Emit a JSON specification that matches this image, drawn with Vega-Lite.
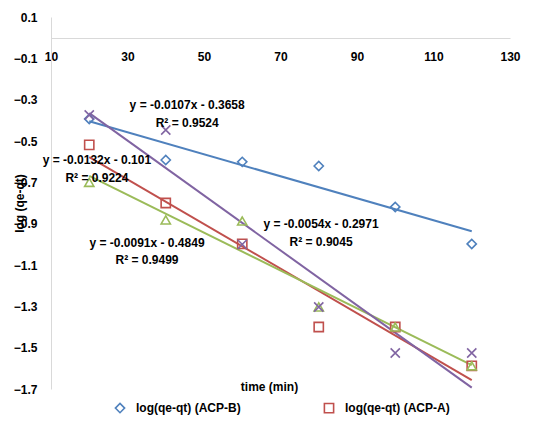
{
  "$schema": "https://vega.github.io/schema/vega-lite/v6.json",
  "width": 459,
  "height": 372,
  "autosize": "none",
  "padding": {"left": 51, "top": 17, "right": 30, "bottom": 32},
  "background": "white",
  "config": {
    "view": {"stroke": null},
    "font": "Liberation Sans",
    "text": {"font": "Liberation Sans"}
  },
  "datasets": {
    "points": [
      {"series": "log(qe-qt) (ACP-B)", "x": 20, "y": -0.393},
      {"series": "log(qe-qt) (ACP-B)", "x": 40, "y": -0.592},
      {"series": "log(qe-qt) (ACP-B)", "x": 60, "y": -0.601},
      {"series": "log(qe-qt) (ACP-B)", "x": 80, "y": -0.621},
      {"series": "log(qe-qt) (ACP-B)", "x": 100, "y": -0.819},
      {"series": "log(qe-qt) (ACP-B)", "x": 120, "y": -0.998},
      {"series": "log(qe-qt) (ACP-A)", "x": 20, "y": -0.519},
      {"series": "log(qe-qt) (ACP-A)", "x": 40, "y": -0.8},
      {"series": "log(qe-qt) (ACP-A)", "x": 60, "y": -0.998},
      {"series": "log(qe-qt) (ACP-A)", "x": 80, "y": -1.4},
      {"series": "log(qe-qt) (ACP-A)", "x": 100, "y": -1.4},
      {"series": "log(qe-qt) (ACP-A)", "x": 120, "y": -1.588},
      {"series": "log(qe-qt) (ACP-C)", "x": 20, "y": -0.7},
      {"series": "log(qe-qt) (ACP-C)", "x": 40, "y": -0.882},
      {"series": "log(qe-qt) (ACP-C)", "x": 60, "y": -0.887},
      {"series": "log(qe-qt) (ACP-C)", "x": 80, "y": -1.303},
      {"series": "log(qe-qt) (ACP-C)", "x": 100, "y": -1.4},
      {"series": "log(qe-qt) (ACP-C)", "x": 120, "y": -1.588},
      {"series": "log(qe-qt) (ACP-D)", "x": 20, "y": -0.374},
      {"series": "log(qe-qt) (ACP-D)", "x": 40, "y": -0.447},
      {"series": "log(qe-qt) (ACP-D)", "x": 60, "y": -1.0},
      {"series": "log(qe-qt) (ACP-D)", "x": 80, "y": -1.303},
      {"series": "log(qe-qt) (ACP-D)", "x": 100, "y": -1.526},
      {"series": "log(qe-qt) (ACP-D)", "x": 120, "y": -1.526}
    ],
    "labels": [
      {"x": 45.6, "y": -0.326, "text": "y = -0.0107x - 0.3658"},
      {"x": 45.6, "y": -0.413, "text": "R² = 0.9524"},
      {"x": 22.0, "y": -0.592, "text": "y = -0.0132x - 0.101"},
      {"x": 22.0, "y": -0.679, "text": "R² = 0.9224"},
      {"x": 35.1, "y": -0.993, "text": "y = -0.0091x - 0.4849"},
      {"x": 35.1, "y": -1.076, "text": "R² = 0.9499"},
      {"x": 80.6, "y": -0.901, "text": "y = -0.0054x - 0.2971"},
      {"x": 80.6, "y": -0.989, "text": "R² = 0.9045"}
    ]
  },
  "encoding": {
    "x": {
      "field": "x",
      "type": "quantitative",
      "scale": {"domain": [10, 130], "nice": false, "zero": false},
      "axis": {
        "orient": "bottom",
        "offset": -351,
        "values": [10, 30, 50, 70, 90, 110, 130],
        "ticks": false,
        "grid": false,
        "domainColor": "#d9d9d9",
        "domainWidth": 1,
        "labelFontSize": 12,
        "labelFontWeight": "bold",
        "labelColor": "#000000",
        "labelPadding": 13,
        "labelFlush": false,
        "title": "time (min)",
        "titleFontSize": 12,
        "titleFontWeight": "bold",
        "titleColor": "#000000",
        "titleX": 218,
        "titleY": 348,
        "titleAnchor": null,
        "titleAlign": "center",
        "titleBaseline": "middle"
      }
    },
    "y": {
      "field": "y",
      "type": "quantitative",
      "scale": {"domain": [-1.7, 0.1], "nice": false, "zero": false},
      "axis": {
        "values": [0.1, -0.1, -0.3, -0.5, -0.7, -0.9, -1.1, -1.3, -1.5, -1.7],
        "format": ".1f",
        "ticks": false,
        "grid": false,
        "domainColor": "#d9d9d9",
        "domainWidth": 1,
        "labelFontSize": 12,
        "labelFontWeight": "bold",
        "labelColor": "#000000",
        "labelPadding": 14,
        "labelFlush": false,
        "title": "log (qe-qt)",
        "titleFontSize": 12,
        "titleFontWeight": "bold",
        "titleColor": "#000000",
        "titleAngle": -90,
        "titleX": -32,
        "titleY": 186,
        "titleAlign": "center",
        "titleBaseline": "middle"
      }
    }
  },
  "layer": [
    {
      "data": {"name": "points"},
      "transform": [
        {"regression": "y", "on": "x", "groupby": ["series"], "extent": [20, 120]}
      ],
      "mark": {"type": "line", "strokeWidth": 2},
      "encoding": {
        "color": {
          "field": "series",
          "type": "nominal",
          "scale": {
            "domain": ["log(qe-qt) (ACP-B)", "log(qe-qt) (ACP-A)", "log(qe-qt) (ACP-C)", "log(qe-qt) (ACP-D)"],
            "range": ["#4F81BD", "#C0504D", "#9BBB59", "#8064A2"]
          }
        }
      }
    },
    {
      "data": {"name": "points"},
      "mark": {"type": "point", "filled": false, "strokeWidth": 1.6, "size": 85, "opacity": 1},
      "encoding": {
        "color": {
          "field": "series",
          "type": "nominal",
          "legend": {
            "orient": "none",
            "legendX": 63,
            "legendY": 385,
            "direction": "horizontal",
            "title": null,
            "values": ["log(qe-qt) (ACP-B)", "log(qe-qt) (ACP-A)"],
            "labelFontSize": 12,
            "labelFontWeight": "bold",
            "labelColor": "#000000",
            "symbolStrokeWidth": 1.6,
            "symbolSize": 85,
            "symbolFillColor": "transparent",
            "labelOffset": 10,
            "columnPadding": 80
          }
        },
        "shape": {
          "field": "series",
          "type": "nominal",
          "scale": {
            "domain": ["log(qe-qt) (ACP-B)", "log(qe-qt) (ACP-A)", "log(qe-qt) (ACP-C)", "log(qe-qt) (ACP-D)"],
            "range": ["diamond", "square", "triangle-up", "M-1,-1L1,1M-1,1L1,-1"]
          },
          "legend": {
            "orient": "none",
            "legendX": 63,
            "legendY": 385,
            "direction": "horizontal",
            "title": null,
            "values": ["log(qe-qt) (ACP-B)", "log(qe-qt) (ACP-A)"],
            "labelFontSize": 12,
            "labelFontWeight": "bold",
            "labelColor": "#000000",
            "symbolStrokeWidth": 1.6,
            "symbolSize": 85,
            "symbolFillColor": "transparent",
            "labelOffset": 10,
            "columnPadding": 80
          }
        }
      }
    },
    {
      "data": {"name": "labels"},
      "mark": {"type": "text", "fontSize": 12, "fontWeight": "bold", "color": "#000000", "align": "center", "baseline": "middle"},
      "encoding": {
        "text": {"field": "text", "type": "nominal"}
      }
    }
  ]
}
